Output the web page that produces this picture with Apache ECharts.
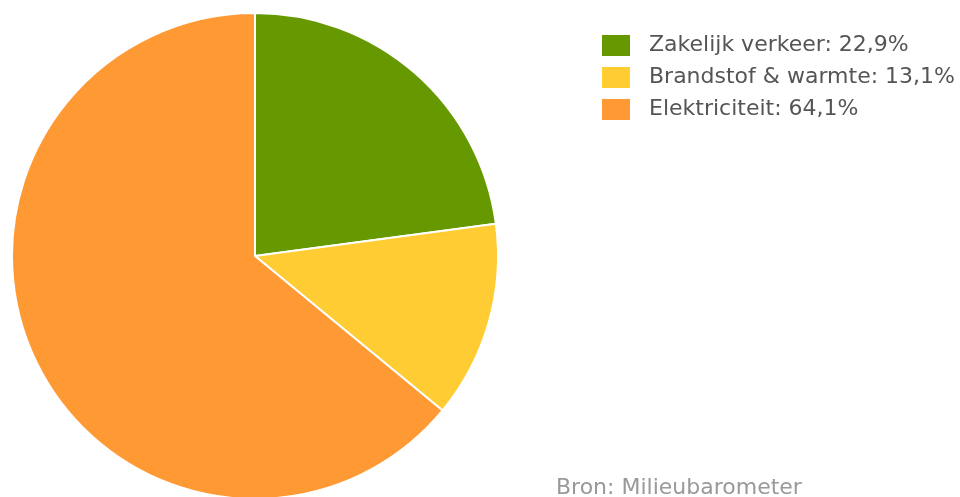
<!DOCTYPE html>
<html>
<head>
<meta charset="utf-8">
<script src="https://cdn.jsdelivr.net/npm/echarts@6/dist/echarts.min.js"></script>
<style>
  html, body { margin: 0; padding: 0; background: #fff; }
  #chart { width: 960px; height: 497px; }
</style>
</head>
<body>
<div id="chart"></div>
<script>
// Aandeel per categorie (%)
const categories = ['Zakelijk verkeer', 'Brandstof & warmte', 'Elektriciteit'];
const shares = [22.9, 13.1, 64.1];
const colors = ['#669900', '#FFCC33', '#FF9933'];
const sourceText = 'Bron: Milieubarometer';

const fmt = v => v.toFixed(1).replace('.', ',') + '%';

const chart = echarts.init(document.getElementById('chart'));
chart.setOption({
  animation: false,
  color: colors,
  title: {
    text: sourceText,
    left: 556,
    top: 477,
    padding: 0,
    textStyle: { fontFamily: 'DejaVu Sans', fontSize: 22, fontWeight: 'normal', color: '#999' }
  },
  legend: {
    orient: 'vertical',
    left: 600,
    top: 33,
    padding: 0,
    itemWidth: 30,
    itemHeight: 23,
    itemGap: 7,
    icon: 'rect',
    data: categories,
    formatter: name => name + ': ' + fmt(shares[categories.indexOf(name)]),
    textStyle: { fontFamily: 'DejaVu Sans', fontSize: 22, lineHeight: 23, color: '#555', padding: [0, 0, 0, 13] }
  },
  series: [{
    type: 'pie',
    center: [255, 256],
    radius: 243,
    startAngle: 90,
    clockwise: true,
    label: { show: false },
    labelLine: { show: false },
    itemStyle: { borderColor: '#fff', borderWidth: 2 },
    emphasis: { disabled: true },
    data: categories.map((c, i) => ({ name: c, value: shares[i] }))
  }]
});
</script>
</body>
</html>
